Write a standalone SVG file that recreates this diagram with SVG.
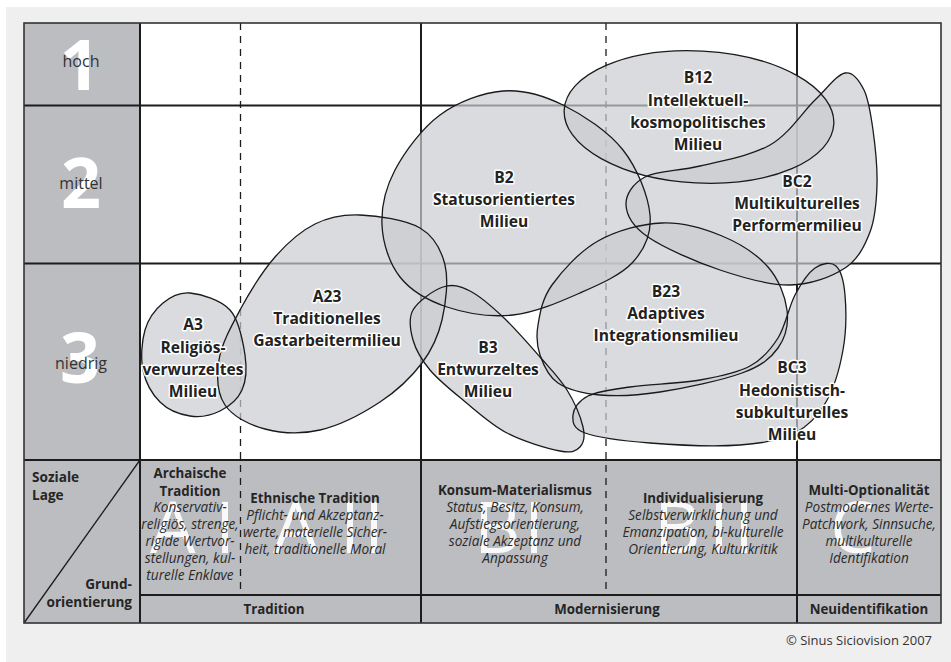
<svg xmlns="http://www.w3.org/2000/svg" xmlns:xlink="http://www.w3.org/1999/xlink" width="951" height="662" viewBox="0 0 951 662">
<style>
.grid{stroke:#1c1c1c;stroke-width:2;fill:none}
.dash{stroke:#1c1c1c;stroke-width:1.3;stroke-dasharray:7 6;fill:none}
.mfill{fill:#cbccd0;fill-opacity:0.7;stroke:none}
.mline{fill:none;stroke:#1a1a1a;stroke-width:1.3}
.lbl{font-family:"Open Sans","Noto Sans","DejaVu Sans",sans-serif;font-size:15.6px;font-weight:700;fill:#222;text-anchor:middle;stroke:#fff;stroke-width:3;stroke-linejoin:round;paint-order:stroke}
.side{font-family:"Open Sans","Noto Sans",sans-serif;font-size:16px;fill:#333;text-anchor:middle}
.num{font-family:"Open Sans","Noto Sans",sans-serif;font-size:70px;font-weight:700;fill:#fff;text-anchor:middle}
.big{font-family:"Open Sans","Noto Sans",sans-serif;font-size:72px;fill:#fff;fill-opacity:0.9}
.hd{font-family:"Open Sans","Noto Sans",sans-serif;font-size:13.3px;font-weight:700;fill:#252525;text-anchor:middle}
.it{font-family:"Open Sans","Noto Sans",sans-serif;font-size:13.6px;font-style:italic;fill:#2a2a2a;text-anchor:middle}
.hl{font-family:"Open Sans","Noto Sans",sans-serif;font-size:13.6px;font-weight:700;fill:#252525}
.cp{font-family:"Open Sans","Noto Sans",sans-serif;font-size:13px;fill:#333;text-anchor:end}
</style>
<defs>
<path id="s-A3" d="M190,293 C201.2,294.2 220.8,299.7 230,310 C239.2,320.3 243,341.7 245,355 C247,368.3 246.2,380.7 242,390 C237.8,399.3 228.7,406.7 220,411 C211.3,415.3 200,417.5 190,416 C180,414.5 167.8,409.7 160,402 C152.2,394.3 145.5,382 143,370 C140.5,358 141.7,341.2 145,330 C148.3,318.8 155.5,309.2 163,303 C170.5,296.8 178.8,291.8 190,293 Z"/>
<path id="s-A23" d="M360,215 C377.5,215.7 405.8,219.7 420,228 C434.2,236.3 441.3,249.7 445,265 C448.7,280.3 445.8,303.7 442,320 C438.2,336.3 432.3,349.3 422,363 C411.7,376.7 397,390.8 380,402 C363,413.2 339.2,425.5 320,430 C300.8,434.5 280.8,433.2 265,429 C249.2,424.8 232.7,416.5 225,405 C217.3,393.5 216.5,375.8 219,360 C221.5,344.2 230.7,327.2 240,310 C249.3,292.8 262.5,271.3 275,257 C287.5,242.7 300.8,231 315,224 C329.2,217 342.5,214.3 360,215 Z"/>
<path id="s-B2" d="M503,91 C523.5,89.3 543,95.2 563,105 C583,114.8 608.5,131.7 623,150 C637.5,168.3 648.3,196.3 650,215 C651.7,233.7 644.7,249 633,262 C621.3,275 600,284.2 580,293 C560,301.8 535.2,312.7 513,315 C490.8,317.3 465.8,313.3 447,307 C428.2,300.7 410.8,290.7 400,277 C389.2,263.3 382.8,242.8 382,225 C381.2,207.2 385.3,188.3 395,170 C404.7,151.7 422,128.2 440,115 C458,101.8 482.5,92.7 503,91 Z"/>
<ellipse id="s-B12" cx="699" cy="117" rx="135" ry="66" transform="rotate(3 699 117)"/>
<path id="s-BC2" d="M845,73 C853.2,71.3 859.3,80.5 864,90 C868.7,99.5 870.8,114.2 873,130 C875.2,145.8 877.5,168 877,185 C876.5,202 875.3,218.2 870,232 C864.7,245.8 858.3,259.2 845,268 C831.7,276.8 810.8,284.7 790,285 C769.2,285.3 743.7,278 720,270 C696.3,262 663.7,247.8 648,237 C632.3,226.2 626.5,215 626,205 C625.5,195 632.7,183.5 645,177 C657.3,170.5 679.2,171.3 700,166 C720.8,160.7 750.8,156 770,145 C789.2,134 802.5,112 815,100 C827.5,88 836.8,74.7 845,73 Z"/>
<path id="s-B23" d="M662,223 C682.7,222.2 704.3,228.7 722,236 C739.7,243.3 757.2,254.7 768,267 C778.8,279.3 785.3,296.5 787,310 C788.7,323.5 785.5,337.5 778,348 C770.5,358.5 761.7,365.7 742,373 C722.3,380.3 683.7,388.3 660,392 C636.3,395.7 617,396.5 600,395 C583,393.5 568,389.7 558,383 C548,376.3 543.3,364.7 540,355 C536.7,345.3 536,336.7 538,325 C540,313.3 542,299 552,285 C562,271 579.7,251.3 598,241 C616.3,230.7 641.3,223.8 662,223 Z"/>
<path id="s-B3" d="M443,287 C452.5,283.8 460,286 470,291 C480,296 491.3,306 503,317 C514.7,328 529.3,344.8 540,357 C550.7,369.2 559.8,378.3 567,390 C574.2,401.7 580.8,417.5 583,427 C585.2,436.5 583.8,443 580,447 C576.2,451 572.2,453.3 560,451 C547.8,448.7 523.2,441.5 507,433 C490.8,424.5 475.8,410.5 463,400 C450.2,389.5 438.3,380 430,370 C421.7,360 415.8,350 413,340 C410.2,330 408,318.8 413,310 C418,301.2 433.5,290.2 443,287 Z"/>
<path id="s-BC3" d="M573,415 C573.5,408.8 578.5,400.7 588,396 C597.5,391.3 611.3,389.7 630,387 C648.7,384.3 680,383.5 700,380 C720,376.5 737,373 750,366 C763,359 770.5,349.8 778,338 C785.5,326.2 788.8,306.7 795,295 C801.2,283.3 808.2,272.8 815,268 C821.8,263.2 831,261.5 836,266 C841,270.5 843.8,281 845,295 C846.2,309 846.2,332.2 843,350 C839.8,367.8 834,388.2 826,402 C818,415.8 809.3,425.8 795,433 C780.7,440.2 764.2,443.3 740,445 C715.8,446.7 675.8,445 650,443 C624.2,441 597.8,437.7 585,433 C572.2,428.3 572.5,421.2 573,415 Z"/>
</defs>

<rect x="6" y="7" width="945" height="655" fill="#efefef"/>

<g id="table">
<rect x="140" y="23" width="801" height="437" fill="#fff"/>
<rect x="24" y="23" width="116" height="437" fill="#bcbdc0"/>
<rect x="24" y="460" width="917" height="163" fill="#bcbdc0"/>
<text class="num" x="80" y="90">1</text>
<text class="num" x="81" y="208">2</text>
<text class="num" x="80" y="383">3</text>
<text class="side" x="81" y="67">hoch</text>
<text class="side" x="81" y="189">mittel</text>
<text class="side" x="81" y="369">niedrig</text>
<text class="big" x="150" y="553">A</text>
<text class="big" x="215" y="553">I</text>
<text class="big" x="273" y="553">A</text>
<text class="big" x="340" y="553">I</text>
<text class="big" x="364" y="553">I</text>
<text class="big" x="474" y="553">B</text>
<text class="big" x="524" y="553">I</text>
<text class="big" x="654" y="553">B</text>
<text class="big" x="709" y="553">I</text>
<text class="big" x="734" y="553">I</text>
<text class="big" x="830" y="553">C</text>
<g class="grid">
<line x1="24" y1="105.5" x2="941" y2="105.5"/>
<line x1="24" y1="263.5" x2="941" y2="263.5"/>
<line x1="24" y1="460" x2="941" y2="460"/>
<line x1="140" y1="595" x2="941" y2="595"/>
<line x1="140" y1="23" x2="140" y2="623"/>
<line x1="421" y1="23" x2="421" y2="623"/>
<line x1="797" y1="23" x2="797" y2="623"/>
</g>
<line class="dash" x1="240.5" y1="23" x2="240.5" y2="595"/>
<line class="dash" x1="606" y1="23" x2="606" y2="595"/>
<line x1="140" y1="460" x2="24" y2="623" stroke="#1c1c1c" stroke-width="1.3"/>
<rect x="24" y="23" width="917" height="600" fill="none" stroke="#333" stroke-width="1.6"/>
</g>

<g id="milieu-fills" class="mfill">
<use href="#s-A23"/>
<use href="#s-A3"/>
<use href="#s-B2"/>
<use href="#s-B12"/>
<use href="#s-BC2"/>
<use href="#s-B23"/>
<use href="#s-B3"/>
<use href="#s-BC3"/>
</g>

<g id="A23">
<use href="#s-A23" class="mline"/>
<text class="lbl"><tspan x="327" y="302">A23</tspan><tspan x="327" y="324">Traditionelles</tspan><tspan x="327" y="346">Gastarbeitermilieu</tspan></text>
</g>
<g id="A3">
<use href="#s-A3" class="mline"/>
<text class="lbl"><tspan x="193" y="330">A3</tspan><tspan x="193" y="353">Religiös-</tspan><tspan x="193" y="375">verwurzeltes</tspan><tspan x="193" y="397">Milieu</tspan></text>
</g>
<g id="B2">
<use href="#s-B2" class="mline"/>
<text class="lbl"><tspan x="504" y="183">B2</tspan><tspan x="504" y="205">Statusorientiertes</tspan><tspan x="504" y="227">Milieu</tspan></text>
</g>
<g id="B12">
<use href="#s-B12" class="mline"/>
<text class="lbl"><tspan x="698" y="83">B12</tspan><tspan x="698" y="106">Intellektuell-</tspan><tspan x="698" y="128">kosmopolitisches</tspan><tspan x="698" y="150">Milieu</tspan></text>
</g>
<g id="BC2">
<use href="#s-BC2" class="mline"/>
<text class="lbl"><tspan x="797" y="187">BC2</tspan><tspan x="797" y="209">Multikulturelles</tspan><tspan x="797" y="231">Performermilieu</tspan></text>
</g>
<g id="B23">
<use href="#s-B23" class="mline"/>
<text class="lbl"><tspan x="666" y="297">B23</tspan><tspan x="666" y="319">Adaptives</tspan><tspan x="666" y="341">Integrationsmilieu</tspan></text>
</g>
<g id="B3">
<use href="#s-B3" class="mline"/>
<text class="lbl"><tspan x="488" y="353">B3</tspan><tspan x="488" y="375">Entwurzeltes</tspan><tspan x="488" y="397">Milieu</tspan></text>
</g>
<g id="BC3">
<use href="#s-BC3" class="mline"/>
<text class="lbl"><tspan x="792" y="373">BC3</tspan><tspan x="792" y="396">Hedonistisch-</tspan><tspan x="792" y="418">subkulturelles</tspan><tspan x="792" y="440">Milieu</tspan></text>
</g>

<g id="axis-labels">
<text class="hl" x="32" y="482">Soziale</text>
<text class="hl" x="32" y="500">Lage</text>
<text class="hl" x="132" y="589" text-anchor="end">Grund-</text>
<text class="hl" x="132" y="607" text-anchor="end">orientierung</text>
</g>
<g id="archaische-tradition">
<text class="hd"><tspan x="190" y="478">Archaische</tspan><tspan x="190" y="496">Tradition</tspan></text>
<text class="it"><tspan x="190" y="512">Konservativ-</tspan><tspan x="190" y="529">religiös, strenge,</tspan><tspan x="190" y="546">rigide Wertvor-</tspan><tspan x="190" y="563">stellungen, kul-</tspan><tspan x="190" y="580">turelle Enklave</tspan></text>
</g>
<g id="ethnische-tradition">
<text class="hd" x="315" y="503">Ethnische Tradition</text>
<text class="it"><tspan x="315" y="520">Pflicht- und Akzeptanz-</tspan><tspan x="315" y="537">werte, materielle Sicher-</tspan><tspan x="315" y="554">heit, traditionelle Moral</tspan></text>
</g>
<g id="konsum-materialismus">
<text class="hd" x="515" y="495">Konsum-Materialismus</text>
<text class="it"><tspan x="515" y="512">Status, Besitz, Konsum,</tspan><tspan x="515" y="529">Aufstiegsorientierung,</tspan><tspan x="515" y="546">soziale Akzeptanz und</tspan><tspan x="515" y="563">Anpassung</tspan></text>
</g>
<g id="individualisierung">
<text class="hd" x="703" y="503">Individualisierung</text>
<text class="it"><tspan x="703" y="520">Selbstverwirklichung und</tspan><tspan x="703" y="537">Emanzipation, bi-kulturelle</tspan><tspan x="703" y="554">Orientierung, Kulturkritik</tspan></text>
</g>
<g id="multi-optionalitaet">
<text class="hd" x="869" y="495">Multi-Optionalität</text>
<text class="it"><tspan x="869" y="512">Postmodernes Werte-</tspan><tspan x="869" y="529">Patchwork, Sinnsuche,</tspan><tspan x="869" y="546">multikulturelle</tspan><tspan x="869" y="563">Identifikation</tspan></text>
</g>
<g id="grundorientierung">
<text class="hd" x="274" y="614">Tradition</text>
<text class="hd" x="607" y="614">Modernisierung</text>
<text class="hd" x="869" y="614">Neuidentifikation</text>
</g>
<text class="cp" x="932" y="645">© Sinus Siciovision 2007</text>
</svg>
